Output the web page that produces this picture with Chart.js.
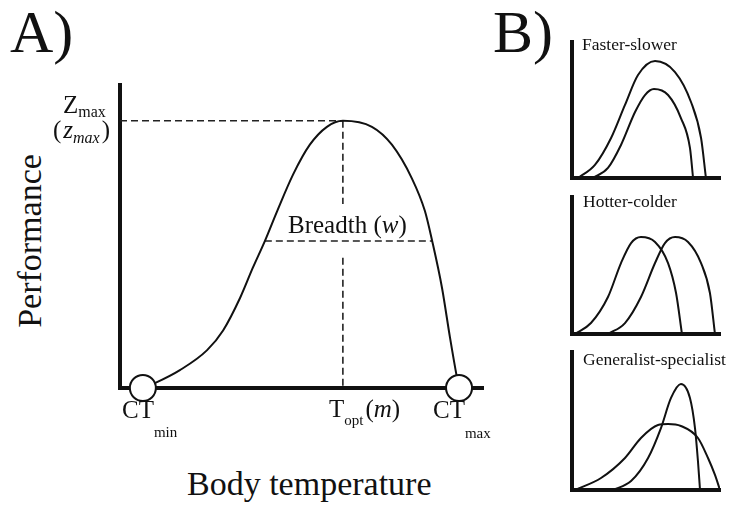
<!DOCTYPE html>
<html>
<head>
<meta charset="utf-8">
<script src="https://cdn.jsdelivr.net/npm/chart.js@4.4.1/dist/chart.umd.min.js"></script>
<style>
  body {
    margin: 0;
    width: 740px;
    height: 505px;
    position: relative;
    overflow: hidden;
    background: #fff;
    color: #111;
    font-family: 'Liberation Serif', 'Times New Roman', serif;
  }
  canvas { position: absolute; }
  .lbl { position: absolute; line-height: 1; white-space: nowrap; }
  .sub { position: relative; }
  .small { font-size: 17.5px; }
</style>
</head>
<body>
<canvas id="chartA" width="400" height="340" style="left:100px;top:70px"></canvas>
<canvas id="chartFast" width="170" height="160" style="left:560px;top:30px"></canvas>
<canvas id="chartHot" width="170" height="162" style="left:560px;top:185px"></canvas>
<canvas id="chartGen" width="170" height="160" style="left:560px;top:340px"></canvas>

<div class="lbl" style="left:10px;top:2px;font-size:60px">A)</div>
<div class="lbl" style="left:493px;top:2px;font-size:60px">B)</div>

<div class="lbl" style="left:63px;top:92px;font-size:25px">Z<span class="sub" style="font-size:16px;top:4px">max</span></div>
<div class="lbl" style="left:53px;top:117px;font-size:25px">(<i style="margin-left:2px">z</i><i class="sub" style="font-size:16px;top:5px">max</i><span style="margin-left:2px">)</span></div>
<div class="lbl" style="left:288px;top:212px;font-size:25px">Breadth (<i>w</i>)</div>
<div class="lbl" style="left:122px;top:397px;font-size:25px">CT<span class="sub" style="font-size:15px;top:19px">min</span></div>
<div class="lbl" style="left:329px;top:396px;font-size:25px">T<span class="sub" style="font-size:15px;top:8px">opt</span><span style="margin-left:2px">(<i>m</i>)</span></div>
<div class="lbl" style="left:433px;top:397px;font-size:25px">CT<span class="sub" style="font-size:15px;top:20px">max</span></div>

<div class="lbl" style="left:30px;top:241px;font-size:34px;transform:translate(-50%,-50%) rotate(-90deg)">Performance</div>
<div class="lbl" style="left:187px;top:467px;font-size:34px">Body temperature</div>

<div class="lbl small" style="left:582px;top:36px">Faster-slower</div>
<div class="lbl small" style="left:583px;top:193px">Hotter-colder</div>
<div class="lbl small" style="left:583px;top:351px">Generalist-specialist</div>

<script>
// A) performance curve against body temperature (both axes 0-100)
const tempA = [6.3, 9.6, 16.5, 24.0, 28.4, 33.1, 36.6, 39.9, 43.3, 47.7, 52.3, 57.0, 61.4, 69.4, 74.9, 80.4, 84.0, 86.0, 88.7, 90.9, 92.8, 93.4];
const perfA = [0, 1.6, 5.9, 12.5, 19.0, 29.8, 39.7, 48.5, 58.4, 70.5, 80.3, 86.2, 88.2, 86.2, 80.3, 69.2, 58.4, 48.5, 33.1, 16.7, 3.6, 0];
const ctMin = 6.3;
const ctMax = 93.4;
const tOpt = 61.4;
const zMax = 88.2;
const breadthAt = 48.5;
const breadthSpan = [39.9, 86.0];
// the T_opt drop line breaks around the breadth label
const toptGap = [43.0, 60.7];

// B) faster-slower
const fastTemp = [4.1, 15.5, 26.4, 35.8, 44.6, 56.1, 69.6, 80.4, 87.2, 90.5];
const fastPerf = [0, 9.6, 29.4, 53.7, 75.7, 86.0, 77.9, 55.9, 29.4, 0];
const slowTemp = [14.2, 24.3, 33.1, 42.6, 49.3, 55.4, 64.9, 73.6, 79.7, 81.8];
const slowPerf = [0, 7.4, 24.3, 48.5, 61.0, 65.4, 61.0, 44.1, 22.1, 0];

// B) hotter-colder
const coldTemp = [2.0, 12.8, 24.3, 33.1, 39.9, 46.6, 56.1, 64.9, 70.3, 74.3];
const coldPerf = [0, 8.0, 27.0, 51.8, 66.4, 70.8, 67.2, 51.8, 29.9, 0];
const hotTemp = [24.3, 35.8, 46.6, 56.1, 62.8, 69.6, 78.4, 87.2, 93.2, 96.6];
const hotPerf = [0, 8.0, 27.0, 51.8, 66.4, 70.8, 67.2, 51.8, 29.9, 0];

// B) generalist-specialist
const specTemp = [27.7, 39.9, 51.4, 60.1, 66.9, 73.6, 79.7, 83.1, 85.1, 86.5];
const specPerf = [0, 6.5, 23.2, 44.9, 66.7, 76.8, 66.7, 44.9, 21.0, 0];
const genTemp = [2.0, 19.6, 35.8, 46.6, 58.1, 64.9, 73.6, 85.1, 91.9, 96.6, 100];
const genPerf = [0, 8.7, 23.2, 37.7, 47.1, 47.8, 46.4, 37.7, 23.2, 10.9, 0];

const ink = '#111';

const toPoints = (xs, ys) => xs.map((x, i) => ({ x, y: ys[i] }));

const curve = (xs, ys) => ({
  data: toPoints(xs, ys),
  showLine: true,
  borderColor: ink,
  borderWidth: 2,
  pointRadius: 0,
  cubicInterpolationMode: 'monotone',
});

const dashed = (points) => ({
  data: points,
  showLine: true,
  borderColor: '#222',
  borderWidth: 1.6,
  borderDash: [7, 4],
  pointRadius: 0,
});

const axis = (width) => ({
  type: 'linear',
  min: 0,
  max: 100,
  grid: { display: false, drawTicks: false },
  ticks: { display: false },
  border: { display: true, width, color: ink },
});

const makeChart = (id, padding, datasets) =>
  new Chart(document.getElementById(id), {
    type: 'scatter',
    data: { datasets },
    options: {
      responsive: false,
      animation: false,
      events: [],
      layout: { padding },
      plugins: { legend: { display: false }, tooltip: { enabled: false } },
      scales: { x: axis(4), y: axis(4) },
    },
  });

// first dataset is drawn on top, so the open circles go first
makeChart('chartA', { left: 20, top: 13, right: 17, bottom: 22 }, [
  {
    data: [{ x: ctMin, y: 0 }, { x: ctMax, y: 0 }],
    showLine: false,
    pointRadius: 13,
    pointBackgroundColor: '#fff',
    pointBorderColor: ink,
    pointBorderWidth: 2,
    clip: false,
  },
  curve(tempA, perfA),
  dashed([{ x: 0, y: zMax }, { x: tOpt, y: zMax }]),
  dashed([{ x: tOpt, y: zMax }, { x: tOpt, y: toptGap[1] }]),
  dashed([{ x: tOpt, y: toptGap[0] }, { x: tOpt, y: 0 }]),
  dashed([{ x: breadthSpan[0], y: breadthAt }, { x: breadthSpan[1], y: breadthAt }]),
]);

makeChart('chartFast', { left: 12, top: 12, right: 10, bottom: 12 }, [
  curve(fastTemp, fastPerf),
  curve(slowTemp, slowPerf),
]);

makeChart('chartHot', { left: 12, top: 12, right: 10, bottom: 13 }, [
  curve(coldTemp, coldPerf),
  curve(hotTemp, hotPerf),
]);

makeChart('chartGen', { left: 12, top: 12, right: 10, bottom: 10 }, [
  curve(specTemp, specPerf),
  curve(genTemp, genPerf),
]);
</script>
</body>
</html>
